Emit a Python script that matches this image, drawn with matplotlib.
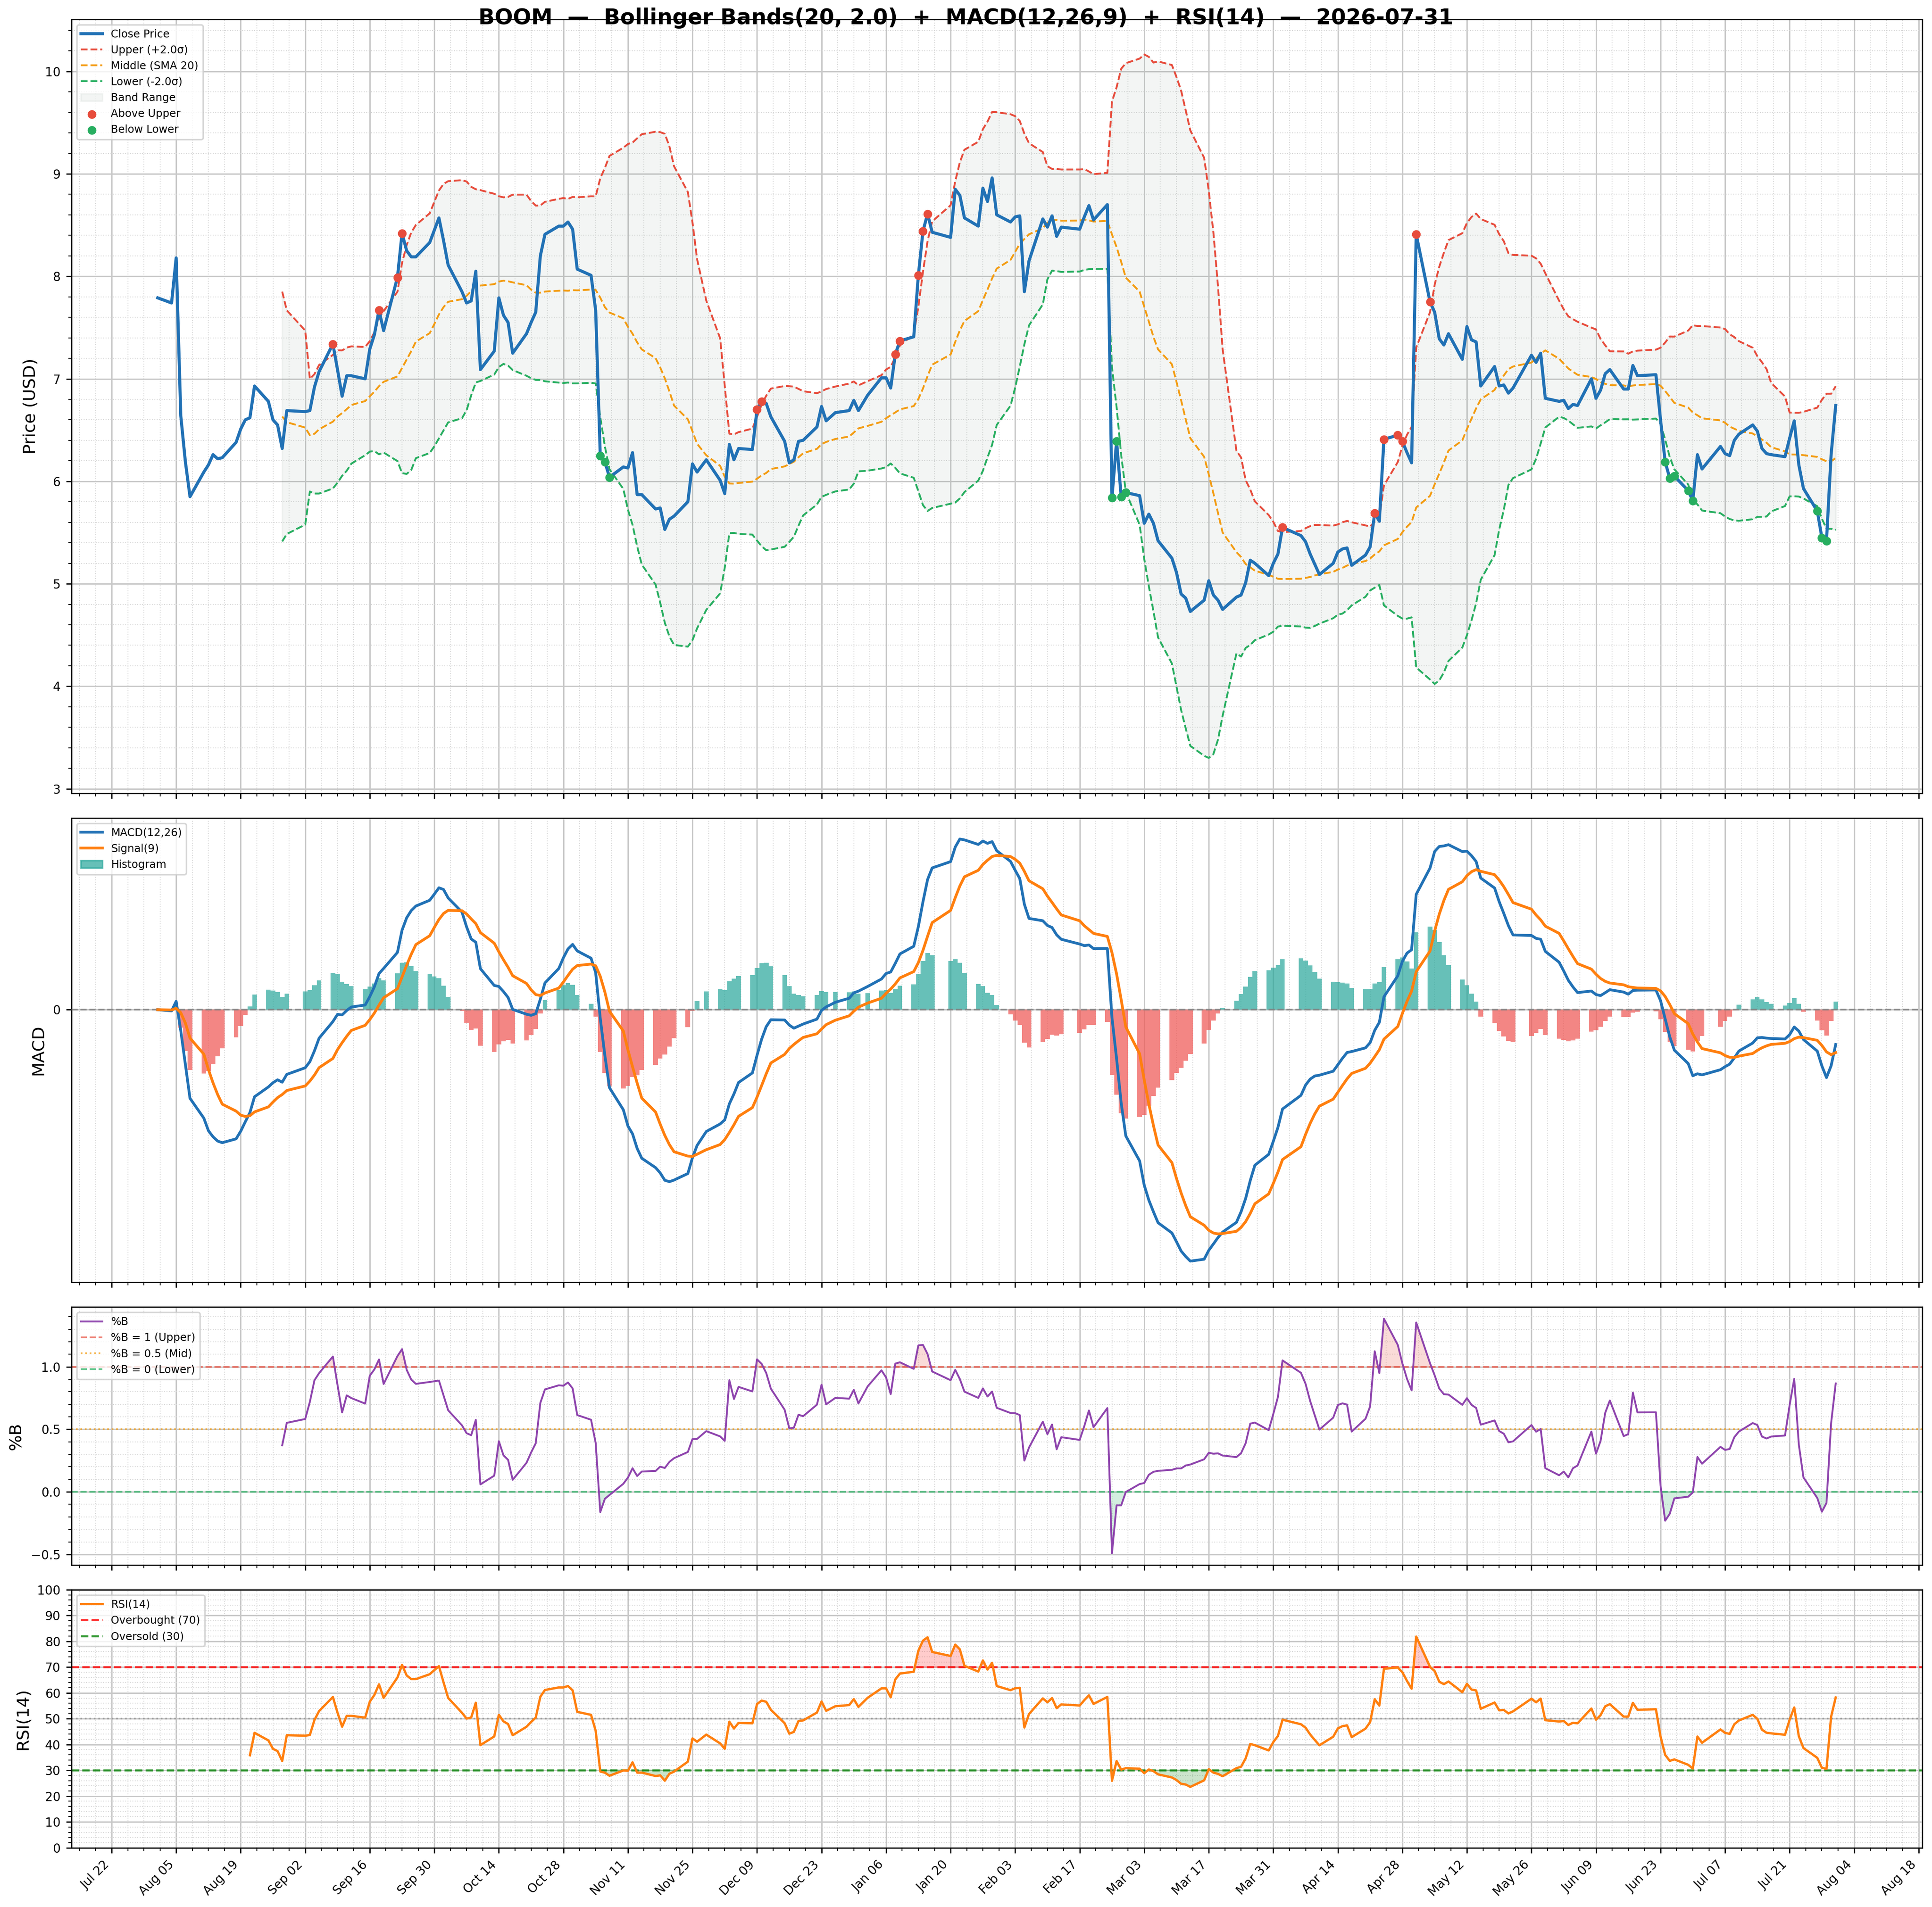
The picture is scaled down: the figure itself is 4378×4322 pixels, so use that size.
import numpy as np
import pandas as pd
import matplotlib
matplotlib.use("Agg")
import matplotlib.pyplot as plt
import matplotlib.dates as mdates
from matplotlib.ticker import AutoMinorLocator, FixedLocator, NullLocator, MultipleLocator
from matplotlib.patches import Patch

# ---------------- data (trading days, close prices) ----------------
aug25_days = [1, 4, 5, 6, 7, 8, 11, 12, 13, 14, 15, 18, 19, 20, 21, 22, 25, 26, 27, 28, 29]
aug25_close = [7.79, 7.74, 8.18, 6.64, 6.19, 5.85, 6.09, 6.16, 6.26, 6.22, 6.23, 6.38, 6.51, 6.60, 6.62,
               6.93, 6.78, 6.60, 6.55, 6.32, 6.69]
sep25_days = [2, 3, 4, 5, 8, 9, 10, 11, 12, 15, 16, 17, 18, 19, 22, 23, 24, 25, 26, 29, 30]
sep25_close = [6.68, 6.69, 6.92, 7.07, 7.34, 7.09, 6.83, 7.03, 7.03, 7.00, 7.29, 7.43, 7.67, 7.47, 7.99,
               8.42, 8.25, 8.19, 8.19, 8.33, 8.45]
oct25_days = [1, 2, 3, 6, 7, 8, 9, 10, 13, 14, 15, 16, 17, 20, 21, 22, 23, 24, 27, 28, 29, 30, 31]
oct25_close = [8.57, 8.35, 8.11, 7.85, 7.74, 7.76, 8.05, 7.09, 7.27, 7.79, 7.62, 7.55, 7.25, 7.44, 7.55,
               7.65, 8.20, 8.41, 8.49, 8.49, 8.53, 8.46, 8.07]
nov25_days = [3, 4, 5, 6, 7, 10, 11, 12, 13, 14, 17, 18, 19, 20, 21, 24, 25, 26, 28]
nov25_close = [8.01, 7.67, 6.25, 6.19, 6.04, 6.14, 6.13, 6.28, 5.87, 5.87, 5.73, 5.74, 5.53, 5.63, 5.66,
               5.80, 6.17, 6.09, 6.21]
dec25_days = [1, 2, 3, 4, 5, 8, 9, 10, 11, 12, 15, 16, 17, 18, 19, 22, 23, 24, 26, 29, 30, 31]
dec25_close = [6.01, 5.88, 6.36, 6.21, 6.32, 6.31, 6.70, 6.78, 6.76, 6.63, 6.39, 6.18, 6.21, 6.39, 6.40,
               6.53, 6.73, 6.59, 6.67, 6.69, 6.79, 6.69]
jan26_days = [2, 5, 6, 7, 8, 9, 12, 13, 14, 15, 16, 20, 21, 22, 23, 26, 27, 28, 29, 30]
jan26_close = [6.84, 7.01, 7.01, 6.91, 7.24, 7.37, 7.41, 8.01, 8.44, 8.61, 8.43, 8.38, 8.85, 8.79, 8.57,
               8.49, 8.86, 8.73, 8.96, 8.60]
feb26_days = [2, 3, 4, 5, 6, 9, 10, 11, 12, 13, 17, 18, 19, 20, 23, 24, 25, 26, 27]
feb26_close = [8.53, 8.58, 8.59, 7.85, 8.15, 8.56, 8.48, 8.59, 8.39, 8.48, 8.46, 8.58, 8.69, 8.55, 8.70,
               5.84, 6.39, 5.85, 5.89]
mar26_days = [2, 3, 4, 5, 6, 9, 10, 11, 12, 13, 16, 17, 18, 19, 20, 23, 24, 25, 26, 27, 30, 31]
mar26_close = [5.86, 5.59, 5.68, 5.59, 5.42, 5.25, 5.11, 4.90, 4.86, 4.73, 4.84, 5.03, 4.89, 4.84, 4.75,
               4.87, 4.89, 5.01, 5.23, 5.20, 5.08, 5.20]
apr26_days = [1, 2, 6, 7, 8, 9, 10, 13, 14, 15, 16, 17, 20, 21, 22, 23, 24, 27, 28, 29, 30]
apr26_close = [5.29, 5.55, 5.47, 5.41, 5.29, 5.19, 5.09, 5.20, 5.31, 5.34, 5.35, 5.18, 5.28, 5.36, 5.69,
               5.61, 6.41, 6.45, 6.39, 6.28, 6.18]
may26_days = [1, 4, 5, 6, 7, 8, 11, 12, 13, 14, 15, 18, 19, 20, 21, 22, 26, 27, 28, 29]
may26_close = [8.41, 7.75, 7.65, 7.39, 7.33, 7.44, 7.19, 7.51, 7.38, 7.36, 6.93, 7.12, 6.93, 6.94, 6.86,
               6.91, 7.23, 7.16, 7.25, 6.81]
jun26_days = [1, 2, 3, 4, 5, 8, 9, 10, 11, 12, 15, 16, 17, 18, 22, 23, 24, 25, 26, 29, 30]
jun26_close = [6.78, 6.79, 6.71, 6.75, 6.74, 7.00, 6.81, 6.89, 7.05, 7.09, 6.90, 6.90, 7.13, 7.03, 7.04,
               6.60, 6.19, 6.03, 6.05, 5.91, 5.81]
jul26_days = [1, 2, 6, 7, 8, 9, 10, 13, 14, 15, 16, 17, 20, 21, 22, 23, 24, 27, 28, 29, 30, 31]
jul26_close = [6.26, 6.12, 6.34, 6.27, 6.25, 6.40, 6.46, 6.55, 6.49, 6.32, 6.27, 6.26, 6.24, 6.42, 6.59,
               6.16, 5.93, 5.71, 5.45, 5.42, 6.26, 6.74]

month_blocks = [
    ("2025-08", aug25_days, aug25_close), ("2025-09", sep25_days, sep25_close),
    ("2025-10", oct25_days, oct25_close), ("2025-11", nov25_days, nov25_close),
    ("2025-12", dec25_days, dec25_close), ("2026-01", jan26_days, jan26_close),
    ("2026-02", feb26_days, feb26_close), ("2026-03", mar26_days, mar26_close),
    ("2026-04", apr26_days, apr26_close), ("2026-05", may26_days, may26_close),
    ("2026-06", jun26_days, jun26_close), ("2026-07", jul26_days, jul26_close),
]

tick_start, tick_end = "2025-07-22", "2026-08-18"
ticker_name = "BOOM"
as_of = "2026-07-31"

# ---------------- assemble ----------------
date_list, close_list = [], []
for ym, ds, cs in month_blocks:
    for d, c in zip(ds, cs):
        date_list.append(f"{ym}-{d:02d}")
        close_list.append(c)
idx = pd.to_datetime(date_list)
s = pd.Series(close_list, index=idx, dtype=float)

# Bollinger Bands (20, 2.0)
mid = s.rolling(20).mean()
sd = s.rolling(20).std()
upper = mid + 2.0 * sd
lower = mid - 2.0 * sd
pctb = (s - lower) / (upper - lower)

# MACD (12, 26, 9)
ema12 = s.ewm(span=12, adjust=False).mean()
ema26 = s.ewm(span=26, adjust=False).mean()
macd = ema12 - ema26
signal = macd.ewm(span=9, adjust=False).mean()
hist = macd - signal

# RSI (14) - Wilder smoothing
delta = s.diff()
gain = delta.clip(lower=0)
loss = -delta.clip(upper=0)
avg_gain = gain.ewm(alpha=1 / 14, min_periods=14, adjust=False).mean()
avg_loss = loss.ewm(alpha=1 / 14, min_periods=14, adjust=False).mean()
rsi = 100 - 100 / (1 + avg_gain / avg_loss)

above = s > upper
below = s < lower

# ---------------- figure ----------------
DPI = 250
plt.rcParams["font.family"] = ["DejaVu Sans"]
fig = plt.figure(figsize=(4378 / DPI, 4322 / DPI), dpi=DPI)
gs = fig.add_gridspec(4, 1, height_ratios=[3, 1.8, 1, 1], left=0.0369, right=0.9949,
                      top=0.9899, bottom=0.0311, hspace=0.0565)
ax1 = fig.add_subplot(gs[0])
ax2 = fig.add_subplot(gs[1], sharex=ax1)
ax3 = fig.add_subplot(gs[2], sharex=ax1)
ax4 = fig.add_subplot(gs[3], sharex=ax1)
axes = [ax1, ax2, ax3, ax4]

BLUE = "#2171b5"
RED = "#e74c3c"
ORANGE = "#f39c12"
GREEN = "#27ae60"
LEG_FS = 7
LAB_FS = 11

x = s.index

# Price panel
l_close, = ax1.plot(x, s.values, color=BLUE, lw=2.0, label="Close Price", zorder=4)
l_up, = ax1.plot(x, upper.values, "--", color=RED, lw=1.2, label="Upper (+2.0σ)", zorder=3)
l_mid, = ax1.plot(x, mid.values, "--", color=ORANGE, lw=1.2, label="Middle (SMA 20)", zorder=3)
l_lo, = ax1.plot(x, lower.values, "--", color=GREEN, lw=1.2, label="Lower (-2.0σ)", zorder=3)
fb = ax1.fill_between(x, lower.values, upper.values, color="#5f7f6f", alpha=0.07,
                      label="Band Range", zorder=1)
sc_up = ax1.scatter(x[above.values], s[above].values, color=RED, s=22, zorder=5, label="Above Upper")
sc_lo = ax1.scatter(x[below.values], s[below].values, color=GREEN, s=22, zorder=5, label="Below Lower")
ax1.legend(handles=[l_close, l_up, l_mid, l_lo, fb, sc_up, sc_lo], loc="upper left", fontsize=LEG_FS)
ax1.set_ylabel("Price (USD)", fontsize=LAB_FS)

# MACD panel
hcolors = ["#26a69a" if v >= 0 else "#ef5350" for v in hist.values]
ax2.bar(x, hist.values, width=1.0, color=hcolors, alpha=0.7, zorder=2)
l_macd, = ax2.plot(x, macd.values, color=BLUE, lw=1.8, label="MACD(12,26)", zorder=4)
l_sig, = ax2.plot(x, signal.values, color="#ff7f0e", lw=1.8, label="Signal(9)", zorder=4)
ax2.axhline(0, color="gray", ls="--", lw=1.1, alpha=0.9, zorder=3)
ax2.legend(handles=[l_macd, l_sig, Patch(color="#26a69a", alpha=0.7, label="Histogram")],
           loc="upper left", fontsize=LEG_FS)
ax2.set_ylabel("MACD", fontsize=LAB_FS)

# %B panel
l_b, = ax3.plot(x, pctb.values, color="#8e44ad", lw=1.2, label="%B", zorder=4)
h1 = ax3.axhline(1.0, color=RED, ls="--", lw=1.1, alpha=0.7, label="%B = 1 (Upper)")
h2 = ax3.axhline(0.5, color=ORANGE, ls=":", lw=1.1, alpha=0.7, label="%B = 0.5 (Mid)")
h3 = ax3.axhline(0.0, color=GREEN, ls="--", lw=1.1, alpha=0.7, label="%B = 0 (Lower)")
pb = pctb.values
ax3.fill_between(x, pb, 1.0, where=pb > 1.0, interpolate=True, color=RED, alpha=0.2, zorder=2)
ax3.fill_between(x, pb, 0.0, where=pb < 0.0, interpolate=True, color=GREEN, alpha=0.2, zorder=2)
ax3.legend(handles=[l_b, h1, h2, h3], loc="upper left", fontsize=LEG_FS)
ax3.set_ylabel("%B", fontsize=LAB_FS)
ax3.yaxis.set_major_locator(MultipleLocator(0.5))

# RSI panel
rv = rsi.values
l_rsi, = ax4.plot(x, rv, color="#ff7f0e", lw=1.5, label="RSI(14)", zorder=4)
o1 = ax4.axhline(70, color="red", ls="--", lw=1.3, alpha=0.8, label="Overbought (70)")
o2 = ax4.axhline(30, color="green", ls="--", lw=1.3, alpha=0.8, label="Oversold (30)")
ax4.axhline(50, color="gray", ls=":", lw=1.1, alpha=0.7)
ax4.fill_between(x, rv, 70, where=rv > 70, interpolate=True, color="red", alpha=0.2, zorder=2)
ax4.fill_between(x, rv, 30, where=rv < 30, interpolate=True, color="green", alpha=0.2, zorder=2)
ax4.set_ylim(0, 100)
ax4.set_yticks(np.arange(0, 101, 10))
ax4.legend(handles=[l_rsi, o1, o2], loc="upper left", fontsize=LEG_FS)
ax4.set_ylabel("RSI(14)", fontsize=LAB_FS)

# ---------------- axes formatting ----------------
major_ticks = mdates.date2num(pd.date_range(tick_start, tick_end, freq="14D"))
ax4.xaxis.set_major_locator(FixedLocator(major_ticks))
ax4.xaxis.set_minor_locator(AutoMinorLocator(4))
ax4.xaxis.set_major_formatter(mdates.DateFormatter("%b %d"))

ax1.yaxis.set_major_locator(MultipleLocator(1))
ax1.yaxis.set_minor_locator(AutoMinorLocator(5))
ax3.yaxis.set_minor_locator(AutoMinorLocator(5))
ax4.yaxis.set_minor_locator(AutoMinorLocator(5))

for ax in axes:
    ax.grid(True, which="major", color="#c8c8c8", lw=0.9)
    ax.grid(True, which="minor", color="#d8d8d8", lw=0.6, ls=":")
    ax.tick_params(axis="both", which="major", labelsize=8)
    ax.set_axisbelow(True)

ax2.set_yticks([0])
ax2.yaxis.set_minor_locator(NullLocator())

for ax in [ax1, ax2, ax3]:
    ax.tick_params(labelbottom=False)
plt.setp(ax4.get_xticklabels(), rotation=45, ha="right")

title = (f"{ticker_name}  \u2014  Bollinger Bands(20, 2.0)  +  MACD(12,26,9)  +  RSI(14)  \u2014  {as_of}")
fig.text(0.5, 0.9905, title, ha="center", va="center", fontsize=14, fontweight="bold")

fig.savefig("out.png", dpi=DPI)
